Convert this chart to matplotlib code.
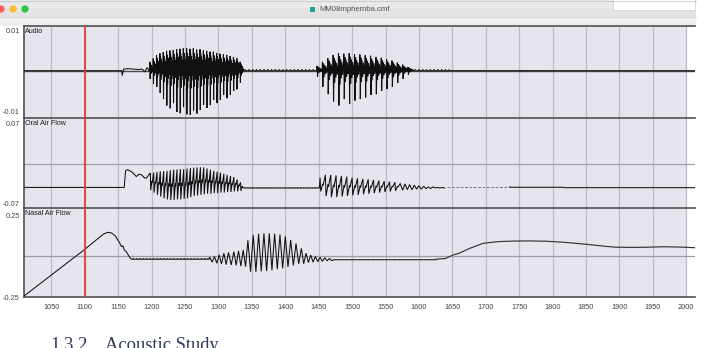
import matplotlib
matplotlib.use("Agg")
import matplotlib.pyplot as plt
from matplotlib.patches import Rectangle, Circle

# ---------------- data ----------------
x_ticks = [1050, 1100, 1150, 1200, 1250, 1300, 1350, 1400, 1450, 1500,
           1550, 1600, 1650, 1700, 1750, 1800, 1850, 1900, 1950, 2000]
x_tick_labels = [str(t) for t in x_ticks]
x_range = (1009, 2013)
grid_end = 2000
cursor_time = 1100

panel_names = ["Audio", "Oral Air Flow", "Nasal Air Flow"]
panel_yticks = [(-0.01, 0.01), (-0.07, 0.07), (-0.25, 0.25)]
panel_ytick_labels = [("-0.01", "0.01"), ("-0.07", "0.07"), ("-0.25", "0.25")]
panel_ylims = [(-0.01168, 0.01104), (-0.077, 0.0805), (-0.25, 0.299)]

window_title = "MM08mphemba.cmf"
heading_number = "1.3.2"
heading_text = "Acoustic Study"

# --- Audio (values in units of 1e-3) ---
audio_pre_t = [1009, 1155, 1156, 1158, 1165, 1172, 1180, 1186, 1190, 1193, 1196]
audio_pre_v = [0, 0, -1.2, 0.4, 0.5, 0.4, 0.3, 0.4, -0.3, 0.8, 0.0]
audio_b1_t = [1197, 1202, 1207, 1212, 1217, 1222, 1227, 1232, 1237, 1242, 1247, 1252, 1257, 1262,
              1267, 1272, 1277, 1282, 1287, 1292, 1297, 1302, 1307, 1312, 1317, 1322, 1327, 1332]
audio_b1_hi = [2.2, 3.0, 3.8, 4.3, 4.6, 4.9, 5.0, 5.1, 5.3, 5.4, 5.5, 5.5, 5.4, 5.5,
               5.2, 5.3, 5.0, 4.9, 4.7, 4.7, 4.4, 4.2, 4.0, 3.9, 3.6, 3.4, 3.1, 2.2]
audio_b1_lo = [-2.0, -3.2, -4.0, -5.5, -7.0, -8.6, -9.3, -8.0, -10.2, -10.5, -9.0, -10.8, -10.9, -9.8,
               -10.6, -9.7, -8.4, -9.2, -8.5, -7.2, -8.0, -7.2, -6.0, -6.8, -6.0, -5.0, -4.6, -3.0]
audio_gap_t = [1338, 1446]
audio_gap_v = [0, 0]
audio_b2_t = [1447, 1455, 1463, 1471, 1479, 1487, 1495, 1503, 1511,
              1519, 1527, 1535, 1543, 1551, 1559, 1567, 1575, 1583]
audio_b2_hi = [1.2, 2.2, 3.1, 3.9, 4.4, 4.2, 4.3, 4.1, 4.0, 3.8, 3.7, 3.4, 3.2, 2.8, 2.5, 2.0, 1.5, 0.9]
audio_b2_lo = [-1.5, -4.0, -5.8, -7.6, -8.6, -7.0, -8.2, -7.4, -7.0,
               -6.6, -6.0, -5.8, -5.0, -4.5, -4.0, -3.0, -2.0, -1.0]
audio_post_t = [1592, 2013]
audio_post_v = [0, 0]
audio_quiet_spans = [(1338, 1446), (1592, 1645)]
audio_faint_spans = [(1660, 1700), (1740, 1792)]

# --- Oral air flow ---
oral_pre_t = [1009, 1159, 1161, 1164, 1170, 1174, 1177, 1181, 1185, 1189, 1192, 1195, 1197]
oral_pre_v = [-0.041, -0.041, -0.0117, -0.010, -0.0135, -0.018, -0.022, -0.018, -0.019,
              -0.024, -0.025, -0.020, -0.017]
oral_b1_t = [1198, 1203, 1208, 1213, 1218, 1223, 1228, 1233, 1238, 1243, 1248, 1253, 1258, 1263,
             1268, 1273, 1278, 1283, 1288, 1293, 1298, 1303, 1308, 1313, 1318, 1323, 1328, 1333]
oral_b1_hi = [-0.016, -0.015, -0.014, -0.013, -0.0125, -0.012, -0.011, -0.010, -0.0095, -0.009,
              -0.009, -0.008, -0.007, -0.0065, -0.006, -0.0058, -0.006, -0.008, -0.010, -0.012,
              -0.0135, -0.015, -0.017, -0.019, -0.021, -0.023, -0.027, -0.032]
oral_b1_lo = [-0.046, -0.050, -0.054, -0.057, -0.060, -0.062, -0.063, -0.063, -0.062, -0.062,
              -0.061, -0.060, -0.058, -0.056, -0.055, -0.054, -0.053, -0.052, -0.052, -0.051,
              -0.051, -0.050, -0.050, -0.049, -0.049, -0.048, -0.048, -0.047]
oral_gap_t = [1338, 1451]
oral_gap_v = [-0.042, -0.042]
oral_b2_t = [1452, 1460, 1468, 1476, 1484, 1492, 1500, 1508, 1516, 1524, 1532, 1540, 1548, 1556, 1564]
oral_b2_hi = [-0.024, -0.019, -0.019, -0.020, -0.021, -0.022, -0.024, -0.025, -0.026, -0.027,
              -0.028, -0.029, -0.030, -0.031, -0.032]
oral_b2_lo = [-0.048, -0.056, -0.058, -0.058, -0.057, -0.056, -0.055, -0.054, -0.053, -0.052,
              -0.051, -0.050, -0.049, -0.048, -0.047]
oral_decay_t = [1572, 1579, 1586, 1593, 1600, 1607, 1614, 1621, 1628, 1635]
oral_decay_hi = [-0.034, -0.035, -0.036, -0.037, -0.038, -0.039, -0.040, -0.040, -0.041, -0.041]
oral_decay_lo = [-0.046, -0.045, -0.045, -0.044, -0.044, -0.043, -0.043, -0.042, -0.042, -0.042]
oral_faint_t = [1642, 1736]
oral_faint_v = [-0.0400, -0.0400]
oral_tail_t = [1736, 1737, 1816, 1817, 2013]
oral_tail_v = [-0.0400, -0.0408, -0.0408, -0.0413, -0.0413]

# --- Nasal air flow ---
nasal_pre_t = [1009, 1100, 1115, 1122, 1128, 1134, 1140, 1146, 1152, 1155, 1157,
               1159, 1162, 1165, 1168, 1170]
nasal_pre_v = [-0.244, 0.044, 0.095, 0.118, 0.138, 0.149, 0.145, 0.125, 0.085, 0.060, 0.066,
               0.040, 0.030, 0.009, -0.010, -0.017]
nasal_flat1_t = [1170, 1286]
nasal_flat1_v = [-0.017, -0.017]
nasal_s_t = [1287, 1294, 1301, 1308, 1315, 1323, 1330, 1337]
nasal_s_hi = [-0.005, 0.000, 0.010, 0.020, 0.025, 0.030, 0.035, 0.040]
nasal_s_lo = [-0.035, -0.042, -0.046, -0.050, -0.052, -0.055, -0.060, -0.063]
nasal_b_t = [1344, 1352, 1360, 1368, 1376, 1384, 1392, 1400, 1408, 1416]
nasal_b_hi = [0.100, 0.133, 0.140, 0.143, 0.143, 0.140, 0.135, 0.125, 0.102, 0.080]
nasal_b_lo = [-0.094, -0.095, -0.092, -0.090, -0.085, -0.078, -0.073, -0.065, -0.055, -0.045]
nasal_d_t = [1424, 1431, 1438, 1445, 1452, 1459, 1466]
nasal_d_hi = [0.050, 0.020, 0.009, 0.000, -0.005, -0.008, -0.012]
nasal_d_lo = [-0.045, -0.038, -0.035, -0.032, -0.030, -0.027, -0.025]
nasal_flat2_t = [1473, 1626]
nasal_flat2_v = [-0.020, -0.020]
nasal_post_t = [1626, 1640, 1651, 1660, 1676, 1696, 1716, 1740, 1766, 1790, 1816,
                1851, 1880, 1896, 1920, 1941, 1966, 1990, 2013]
nasal_post_v = [-0.017, -0.012, 0.009, 0.020, 0.050, 0.081, 0.091, 0.095, 0.096, 0.094, 0.088,
                0.075, 0.062, 0.057, 0.056, 0.057, 0.060, 0.058, 0.054]

# ---------------- drawing helpers (cycle shapes) ----------------
AUDIO_SHAPE = [(0.0, 0, 0), (0.07, 1, 0), (0.15, 0, 1), (0.27, 0.8, 0), (0.37, 0, 0.4),
               (0.49, 0.65, 0), (0.60, 0, 0.22), (0.72, 0.5, 0), (0.84, 0, 0.12), (0.93, 0.3, 0)]
ORAL_SHAPE = [(0.0, 1, 0), (0.12, 0, 1), (0.5, 0.55, 0.45), (0.58, 0.45, 0.55)]
NASAL_SHAPE = [(0.0, 1, 0), (0.5, 0, 1)]


def cycles(times, hi, lo, shape, scale=1.0):
    xs, ys = [], []
    n = len(times)
    for i in range(n):
        per = times[i + 1] - times[i] if i < n - 1 else times[i] - times[i - 1]
        for f, a, b in shape:
            xs.append(times[i] + f * per)
            ys.append((a * hi[i] + b * lo[i]) * scale)
    return xs, ys


def join(*parts):
    xs, ys = [], []
    for px, py in parts:
        xs += list(px)
        ys += list(py)
    return xs, ys


W, H = 703, 348
fig = plt.figure(figsize=(W / 100, H / 100), dpi=100)
fig.patch.set_facecolor("white")

# ---------------- window chrome (pixel coordinates) ----------------
chrome = fig.add_axes([0, 0, 1, 1], zorder=0)
chrome.set_xlim(0, W)
chrome.set_ylim(H, 0)
chrome.axis("off")
chrome.add_patch(Rectangle((0, 0), 696, 17, facecolor="#e3e3e3", edgecolor="none"))
chrome.add_patch(Rectangle((0, 0), 696, 8, facecolor="#e9e9e9", edgecolor="none"))
chrome.add_patch(Rectangle((0, 17), 696, 9, facecolor="#eeeeee", edgecolor="none"))
chrome.plot([0, 696], [16.8, 16.8], color="#d2d2d2", lw=0.6)
chrome.plot([0, 696], [0.5, 0.5], color="#c8c8c8", lw=0.6)
for cx, col in [(1, "#fe5f57"), (13, "#febc2e"), (25, "#28c840")]:
    chrome.add_patch(Circle((cx, 9), 3.6, facecolor=col, edgecolor="none"))
chrome.add_patch(Rectangle((310, 6.5), 4.5, 5, facecolor="#1fa595", edgecolor="none"))
chrome.text(319, 9.5, window_title, fontsize=5.6, color="#555555", va="center", ha="left",
            family="Liberation Sans")
chrome.add_patch(Rectangle((613, -1), 82, 11, facecolor="white", edgecolor="#d8d8d8", lw=0.6))
chrome.text(50, 350.2, heading_number, fontsize=13.3, color="#2e3a57",
            family="Liberation Serif", va="baseline", ha="left")
chrome.text(105, 350.2, heading_text, fontsize=13.3, color="#2e3a57",
            family="Liberation Serif", va="baseline", ha="left")

# ---------------- panels ----------------
panel_px = [(26, 118), (118, 208), (208, 297)]
axes = []
for k, (top, bot) in enumerate(panel_px):
    ax = fig.add_axes([24 / W, 1 - bot / H, (695 - 24) / W, (bot - top) / H], zorder=2)
    ax.set_facecolor("none")
    ax.set_xlim(*x_range)
    ax.set_ylim(*panel_ylims[k])
    ax.axvspan(x_range[0], grid_end, color="#e6e5ee", zorder=0, lw=0)
    for t in x_ticks:
        ax.axvline(t, color="#bcbbc4", lw=0.9, zorder=1)
    for s in ["right", "bottom"]:
        ax.spines[s].set_visible(False)
    ax.spines["top"].set_color("#505050")
    ax.spines["top"].set_linewidth(1.2)
    ax.spines["left"].set_color("#505050")
    ax.spines["left"].set_linewidth(1.2)
    if k == 2:
        ax.spines["bottom"].set_visible(True)
        ax.spines["bottom"].set_color("#505050")
        ax.spines["bottom"].set_linewidth(1.2)
    ax.set_yticks(panel_yticks[k])
    ax.set_yticklabels(panel_ytick_labels[k], family="Liberation Sans")
    ax.tick_params(axis="y", length=0, pad=3, labelsize=5.3, labelcolor="#444444")
    ax.set_xticks(x_ticks)
    if k == 2:
        ax.set_xticklabels(x_tick_labels, family="Liberation Sans")
        ax.tick_params(axis="x", length=0, pad=5, labelsize=5.3, labelcolor="#444444")
    else:
        ax.tick_params(axis="x", length=0, labelbottom=False)
    ax.text(0.002, 0.975, panel_names[k], transform=ax.transAxes, fontsize=5.1,
            va="top", ha="left", color="#1a1a1a", family="Liberation Sans", zorder=6)
    ax.axvline(cursor_time, color="#e53a3d", lw=1.3, zorder=5)
    axes.append(ax)

ax_a, ax_o, ax_n = axes
sig = dict(color="#111111", lw=0.75, zorder=4, solid_joinstyle="miter")

# Audio
ax_a.axhline(0, color="#4a4a4a", lw=1.0, zorder=2)
ax_a.plot(*join((audio_pre_t, [v * 1e-3 for v in audio_pre_v]),
                cycles(audio_b1_t, audio_b1_hi, audio_b1_lo, AUDIO_SHAPE, 1e-3),
                (audio_gap_t, audio_gap_v),
                cycles(audio_b2_t, audio_b2_hi, audio_b2_lo, AUDIO_SHAPE, 1e-3),
                (audio_post_t, audio_post_v)), **sig)
for a, b in audio_quiet_spans:
    ax_a.plot([a, b], [0.00035, 0.00035], color="#333333", lw=0.8, ls=(0, (1.2, 2.2)), zorder=4)
for a, b in audio_faint_spans:
    ax_a.plot([a, b], [0.0002, 0.0002], color="#9a9aa2", lw=0.7, ls=(0, (2, 1.5)), zorder=3)

# Oral
ax_o.axhline(0, color="#a0a0a8", lw=0.9, zorder=2)
ax_o.plot(*join((oral_pre_t, oral_pre_v),
                cycles(oral_b1_t, oral_b1_hi, oral_b1_lo, ORAL_SHAPE),
                (oral_gap_t, oral_gap_v),
                cycles(oral_b2_t, oral_b2_hi, oral_b2_lo, ORAL_SHAPE),
                cycles(oral_decay_t, oral_decay_hi, oral_decay_lo, NASAL_SHAPE)), **sig)
ax_o.plot(oral_gap_t, [v + 0.0022 for v in oral_gap_v], color="#333333", lw=0.7,
          ls=(0, (1.2, 1.8)), zorder=4)
ax_o.plot(oral_faint_t, oral_faint_v, color="#777777", lw=0.7, ls=(0, (3, 1.5)), zorder=4)
ax_o.plot(oral_tail_t, oral_tail_v, color="#333333", lw=0.9, zorder=4)

# Nasal
ax_n.axhline(0, color="#9c9ca4", lw=0.9, zorder=2)
ax_n.plot(*join((nasal_pre_t, nasal_pre_v),
                (nasal_flat1_t, nasal_flat1_v),
                cycles(nasal_s_t, nasal_s_hi, nasal_s_lo, NASAL_SHAPE),
                cycles(nasal_b_t, nasal_b_hi, nasal_b_lo, NASAL_SHAPE),
                cycles(nasal_d_t, nasal_d_hi, nasal_d_lo, NASAL_SHAPE),
                (nasal_flat2_t, nasal_flat2_v)), **sig)
ax_n.plot(nasal_flat1_t, [v + 0.006 for v in nasal_flat1_v], color="#333333", lw=0.7,
          ls=(0, (1.5, 2.0)), zorder=4)
ax_n.plot(nasal_flat2_t, [v + 0.006 for v in nasal_flat2_v], color="#555555", lw=0.7,
          ls=(0, (2.5, 2.0)), zorder=4)
ax_n.plot(nasal_post_t, nasal_post_v, color="#333333", lw=0.85, zorder=4)

fig.savefig("out.png", dpi=100)
